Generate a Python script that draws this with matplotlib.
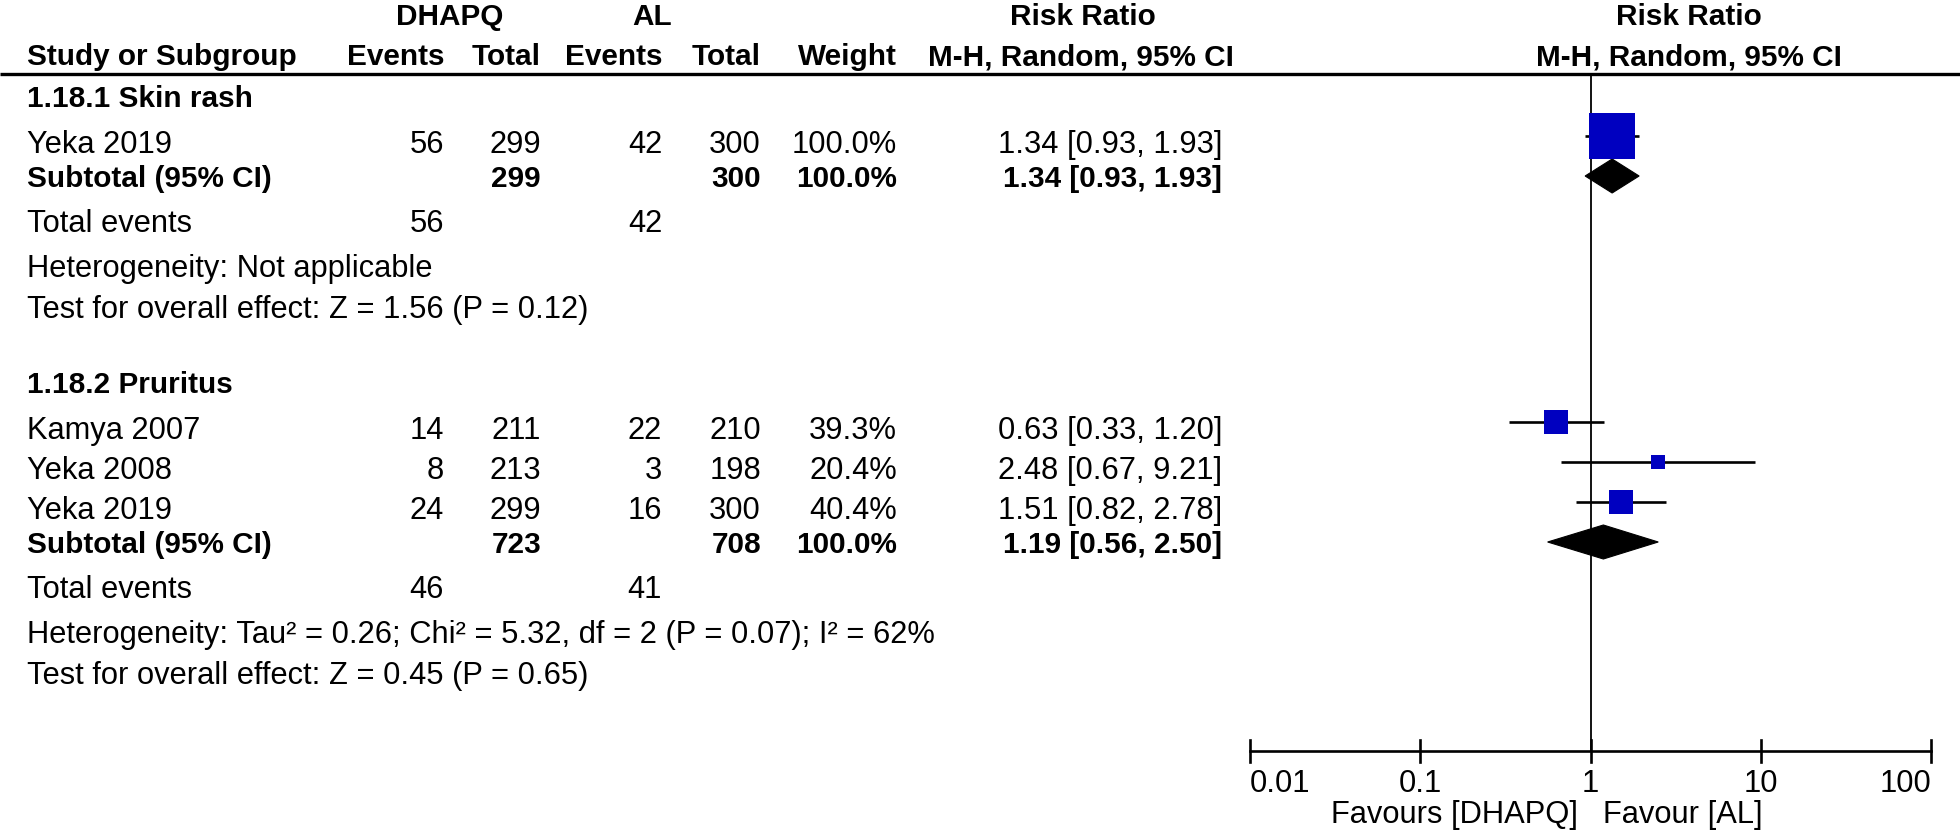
import numpy as np
import matplotlib.pyplot as plt
from matplotlib.patches import Polygon

plt.rcParams['font.family'] = ['Liberation Sans', 'DejaVu Sans']

# study rows
study = ['Yeka 2019', 'Kamya 2007', 'Yeka 2008', 'Yeka 2019']
study_group = [0, 1, 1, 1]
dhapq_events = [56, 14, 8, 24]
dhapq_total = [299, 211, 213, 299]
al_events = [42, 22, 3, 16]
al_total = [300, 210, 198, 300]
weight = [100.0, 39.3, 20.4, 40.4]
rr = [1.34, 0.63, 2.48, 1.51]
ci_low = [0.93, 0.33, 0.67, 0.82]
ci_high = [1.93, 1.20, 9.21, 2.78]

# subgroup rows
groups = ['1.18.1 Skin rash', '1.18.2 Pruritus']
sub_dhapq_total = [299, 723]
sub_al_total = [300, 708]
sub_weight = [100.0, 100.0]
sub_rr = [1.34, 1.19]
sub_low = [0.93, 0.56]
sub_high = [1.93, 2.50]
events_dhapq = [56, 46]
events_al = [42, 41]
heterogeneity = ['Heterogeneity: Not applicable',
                 'Heterogeneity: Tau² = 0.26; Chi² = 5.32, df = 2 (P = 0.07); I² = 62%']
overall = ['Test for overall effect: Z = 1.56 (P = 0.12)',
           'Test for overall effect: Z = 0.45 (P = 0.65)']

tick_vals = [0.01, 0.1, 1, 10, 100]
tick_labels = ['0.01', '0.1', '1', '10', '100']
favours = ['Favours [DHAPQ]', 'Favour [AL]']

W, H = 1960, 830
FS = 22.2      # regular text
FSB = 21.4     # bold text
BLUE = '#0000C0'

fig = plt.figure(figsize=(W / 100, H / 100), dpi=100)
ax = fig.add_axes([0, 0, 1, 1])
ax.set_xlim(0, W)
ax.set_ylim(H, 0)
ax.axis('off')

# forest panel: log x, pixel y
x0, x1 = 1250, 1931
fx = fig.add_axes([x0 / W, 0, (x1 - x0) / W, 1])
fx.set_xscale('log')
fx.set_xlim(0.01, 100)
fx.set_ylim(H, 0)
fx.axis('off')
fx.patch.set_alpha(0)

# column anchors (right edges unless noted)
c_name = 27
c_ev1, c_tot1, c_ev2, c_tot2, c_w, c_ci = 444, 541, 662, 761, 897, 1222


def t(x, y, s, ha='right', bold=False):
    ax.text(x, y, s, ha=ha, va='baseline', fontsize=FSB if bold else FS,
            fontweight='bold' if bold else 'normal', color='black')


# headers
t(450, 25, 'DHAPQ', ha='center', bold=True)
t(652, 25, 'AL', ha='center', bold=True)
t(1083, 25, 'Risk Ratio', ha='center', bold=True)
t(1689, 25, 'Risk Ratio', ha='center', bold=True)
t(c_name, 65, 'Study or Subgroup', ha='left', bold=True)
for x, s in [(c_ev1, 'Events'), (c_tot1, 'Total'), (c_ev2, 'Events'),
             (c_tot2, 'Total'), (c_w, 'Weight')]:
    t(x, 65, s, bold=True)
t(1081, 65, 'M-H, Random, 95% CI', ha='center', bold=True)
t(1689, 65, 'M-H, Random, 95% CI', ha='center', bold=True)
ax.plot([0, W], [74, 74], color='black', lw=2.4, solid_capstyle='butt')

y_axis = 751
fx.plot([1, 1], [74, y_axis], color='black', lw=1.3)

y = 107
for g, name in enumerate(groups):
    t(c_name, y, name, ha='left', bold=True)
    y += 46
    for i in [k for k in range(len(study)) if study_group[k] == g]:
        t(c_name, y, study[i], ha='left')
        t(c_ev1, y, str(dhapq_events[i]))
        t(c_tot1, y, str(dhapq_total[i]))
        t(c_ev2, y, str(al_events[i]))
        t(c_tot2, y, str(al_total[i]))
        t(c_w, y, f'{weight[i]:.1f}%')
        t(c_ci, y, f'{rr[i]:.2f} [{ci_low[i]:.2f}, {ci_high[i]:.2f}]')
        ym = y - 17
        fx.plot([ci_low[i], ci_high[i]], [ym, ym], color='black', lw=1.9,
                solid_capstyle='butt')
        side = 46 * (weight[i] / 100) ** 0.73
        fx.plot([rr[i]], [ym], marker='s', markersize=side * 0.72,
                color=BLUE, markeredgewidth=0, linestyle='none')
        y += 40
    y -= 6
    t(c_name, y, 'Subtotal (95% CI)', ha='left', bold=True)
    t(c_tot1, y, str(sub_dhapq_total[g]), bold=True)
    t(c_tot2, y, str(sub_al_total[g]), bold=True)
    t(c_w, y, f'{sub_weight[g]:.1f}%', bold=True)
    t(c_ci, y, f'{sub_rr[g]:.2f} [{sub_low[g]:.2f}, {sub_high[g]:.2f}]', bold=True)
    yd = y - 11
    fx.add_patch(Polygon([(sub_low[g], yd), (sub_rr[g], yd - 17),
                          (sub_high[g], yd), (sub_rr[g], yd + 17)],
                         closed=True, facecolor='black', edgecolor='black', lw=0.8))
    y += 45
    t(c_name, y, 'Total events', ha='left')
    t(c_ev1, y, str(events_dhapq[g]))
    t(c_ev2, y, str(events_al[g]))
    y += 45
    t(c_name, y, heterogeneity[g], ha='left')
    y += 41
    t(c_name, y, overall[g], ha='left')
    y += 75

# x axis
fx.plot([0.01, 100], [y_axis, y_axis], color='black', lw=1.9, clip_on=False)
for v, lab in zip(tick_vals, tick_labels):
    fx.plot([v, v], [y_axis - 11, y_axis + 11], color='black', lw=1.9,
            clip_on=False)
    ha = 'left' if v == tick_vals[0] else ('right' if v == tick_vals[-1] else 'center')
    fx.text(v, 792, lab, ha=ha, va='baseline', fontsize=FS)
fx.text(0.85, 823, favours[0], ha='right', va='baseline', fontsize=FS)
fx.text(1.18, 823, favours[1], ha='left', va='baseline', fontsize=FS)

fig.savefig('out.png', dpi=100, facecolor='white')
